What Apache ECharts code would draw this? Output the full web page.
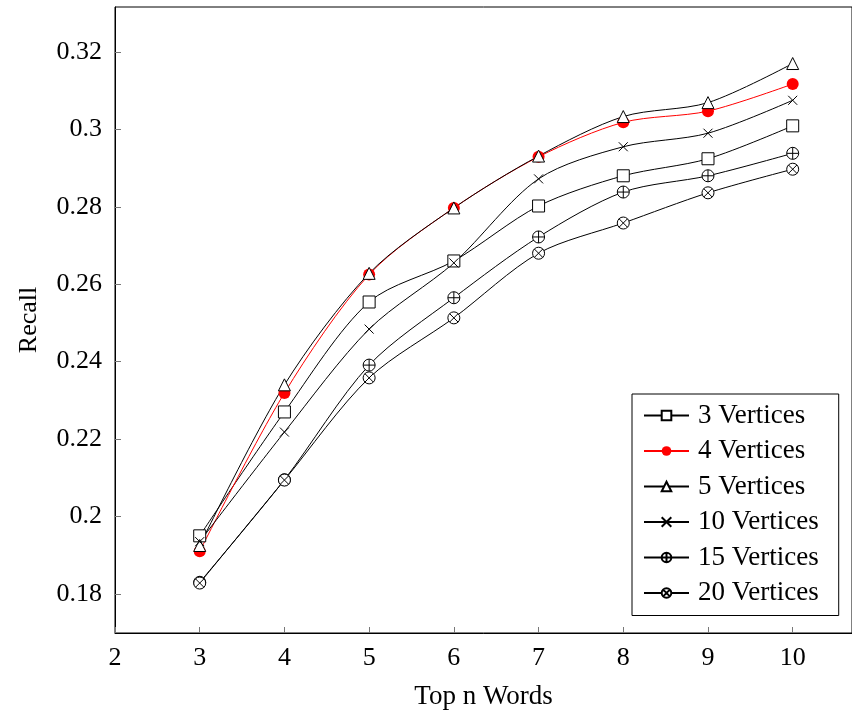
<!DOCTYPE html>
<html>
<head>
<meta charset="utf-8">
<script src="https://cdn.jsdelivr.net/npm/echarts@6/dist/echarts.min.js"></script>
<style>html,body{margin:0;padding:0;background:#fff;}#c{width:852px;height:716px;}</style>
</head>
<body>
<div id="c"></div>
<script>
var topN = [3, 4, 5, 6, 7, 8, 9, 10];
var xTicks = [2, 3, 4, 5, 6, 7, 8, 9, 10];
var yTicks = [0.18, 0.2, 0.22, 0.24, 0.26, 0.28, 0.3, 0.32];
var names = ['3 Vertices', '4 Vertices', '5 Vertices', '10 Vertices', '15 Vertices', '20 Vertices'];
var v3  = [0.1950, 0.2270, 0.2554, 0.2660, 0.2802, 0.2880, 0.2924, 0.3009];
var v4  = [0.1910, 0.2319, 0.2625, 0.2797, 0.2929, 0.3018, 0.3047, 0.3117];
var v5  = [0.1925, 0.2340, 0.2628, 0.2797, 0.2931, 0.3033, 0.3069, 0.3170];
var v10 = [0.1935, 0.2218, 0.2484, 0.2655, 0.2872, 0.2955, 0.2990, 0.3075];
var v15 = [0.1830, 0.2095, 0.2391, 0.2565, 0.2722, 0.2838, 0.2880, 0.2938];
var v20 = [0.1828, 0.2094, 0.2358, 0.2513, 0.2680, 0.2758, 0.2836, 0.2897];

var circ = 'M10 0 A10 10 0 1 1 -10 0 A10 10 0 1 1 10 0 Z';
var symPlus = 'path://' + circ + ' M-10 0 L10 0 M0 -10 L0 10';
var symTimes = 'path://' + circ + ' M-7.07 -7.07 L7.07 7.07 M-7.07 7.07 L7.07 -7.07';
var symX = 'path://M-5 -5 L5 5 M-5 5 L5 -5';

function pts(arr) { return topN.map(function (x, i) { return [x, arr[i]]; }); }
var FONT = 'Liberation Serif';
function mk(name, arr, color, symbol, size, fill) {
  return {
    name: name, type: 'line', data: pts(arr), smooth: 0.3,
    symbol: symbol, symbolSize: size, symbolKeepAspect: true, showAllSymbol: true,
    lineStyle: { color: color, width: 1 },
    itemStyle: { color: fill, borderColor: color === 'red' ? 'red' : '#000', borderWidth: color === 'red' ? 0 : 1 },
    emphasis: { disabled: true }, animation: false
  };
}
var series = [
  mk(names[0], v3, '#000', 'rect', 12, '#fff'),
  mk(names[1], v4, 'red', 'circle', 12, 'red'),
  mk(names[2], v5, '#000', 'triangle', 12, '#fff'),
  mk(names[3], v10, '#000', symX, 9, 'rgba(0,0,0,0)'),
  mk(names[4], v15, '#000', symPlus, 12, '#fff'),
  mk(names[5], v20, '#000', symTimes, 12, '#fff')
];

var chart = echarts.init(document.getElementById('c'), null, { renderer: 'canvas' });
chart.setOption({
  backgroundColor: '#fff',
  animation: false,
  textStyle: { fontFamily: FONT },
  grid: { left: 115, top: 7, width: 738, height: 626, show: true, borderColor: '#000', borderWidth: 1, containLabel: false },
  xAxis: {
    type: 'value', min: 2, max: 10.7,
    name: 'Top n Words', nameLocation: 'middle', nameGap: 50,
    nameTextStyle: { fontFamily: FONT, fontSize: 27, color: '#000' },
    axisLine: { show: true, lineStyle: { color: '#000', width: 1 } },
    axisTick: { show: true, inside: true, length: 6, lineStyle: { color: '#777' }, customValues: xTicks },
    axisLabel: { fontFamily: FONT, fontSize: 26, color: '#000', margin: 12, customValues: xTicks,
      formatter: function (v) { return String(v); } },
    splitLine: { show: false }
  },
  yAxis: {
    type: 'value', min: 0.1699, max: 0.3316,
    name: 'Recall', nameLocation: 'middle', nameGap: 73,
    nameTextStyle: { fontFamily: FONT, fontSize: 26, color: '#000' },
    axisLine: { show: true, lineStyle: { color: '#000', width: 1 } },
    axisTick: { show: true, inside: true, length: 6, lineStyle: { color: '#777' }, customValues: yTicks },
    axisLabel: { fontFamily: FONT, fontSize: 26, color: '#000', margin: 13, customValues: yTicks,
      formatter: function (v) { return String(+v.toFixed(2)); } },
    splitLine: { show: false }
  },
  legend: {
    data: names, orient: 'vertical', left: 632, top: 394,
    backgroundColor: '#fff', borderColor: '#000', borderWidth: 1,
    padding: [8, 20, 9, 11], itemGap: 8.5, itemWidth: 45, itemHeight: 12,
    textStyle: { fontFamily: FONT, fontSize: 27, color: '#000', padding: [0, 0, 0, 4] },
    selectedMode: false
  },
  series: series
});
</script>
</body>
</html>
